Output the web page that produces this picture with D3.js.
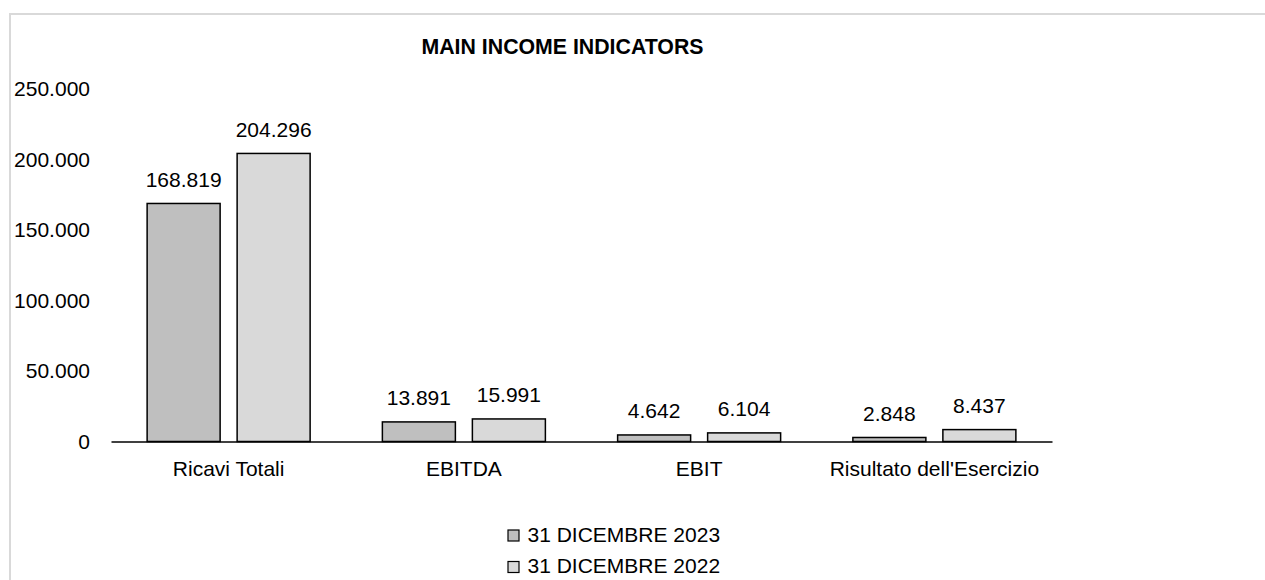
<!DOCTYPE html>
<html>
<head>
<meta charset="utf-8">
<script src="https://cdn.jsdelivr.net/npm/d3@7"></script>
<style>
  html, body { margin: 0; padding: 0; background: #fff; }
  svg { display: block; font-family: "Liberation Sans", Arial, sans-serif; }
</style>
</head>
<body>
<svg id="chart" width="1265" height="580"></svg>
<script>
// Income indicators, values in thousands of euro
const categories = ["Ricavi Totali", "EBITDA", "EBIT", "Risultato dell'Esercizio"];
const seriesNames = ["31 DICEMBRE 2023", "31 DICEMBRE 2022"];
const values2023 = [168819, 13891, 4642, 2848];
const values2022 = [204296, 15991, 6104, 8437];
const yTicks = [0, 50000, 100000, 150000, 200000, 250000];
const chartTitle = "MAIN INCOME INDICATORS";

const seriesValues = [values2023, values2022];
const seriesColors = ["#bfbfbf", "#d9d9d9"];

const itLocale = d3.formatLocale({ decimal: ",", thousands: ".", grouping: [3], currency: ["€", ""] });
const fmt = itLocale.format(",d");

const FONT = 21;
const svg = d3.select("#chart");

// outer frame
svg.append("rect")
  .attr("x", 10).attr("y", 14).attr("width", 1300).attr("height", 620)
  .attr("fill", "none").attr("stroke", "#d9d9d9").attr("stroke-width", 2);

const plot = { left: 111, right: 1052, top: 89, bottom: 441.5 };

const x0 = d3.scaleBand().domain(categories).range([plot.left, plot.right]).padding(0);
const y = d3.scaleLinear().domain([0, 250000]).range([plot.bottom, plot.top]);

const barWidth = 73, barGap = 17;

// title
svg.append("text")
  .attr("x", 562.5).attr("y", 53.5)
  .attr("text-anchor", "middle")
  .attr("font-size", 21.3).attr("font-weight", "bold")
  .attr("fill", "#000")
  .text(chartTitle);

// y tick labels
const yAxis = d3.axisLeft(y).tickValues(yTicks).tickFormat(d => d === 0 ? "0" : fmt(d)).tickSize(0).tickPadding(0);
const yg = svg.append("g").attr("transform", "translate(90,0)").call(yAxis);
yg.select(".domain").remove();
yg.selectAll("text").attr("font-size", FONT).attr("fill", "#000").attr("font-family", "Liberation Sans, Arial, sans-serif");

// bars with value labels
const groups = svg.append("g");
categories.forEach((cat, ci) => {
  const cx = x0(cat) + x0.bandwidth() / 2;
  seriesValues.forEach((vals, si) => {
    const v = vals[ci];
    const bx = si === 0 ? cx - barGap / 2 - barWidth : cx + barGap / 2;
    groups.append("rect")
      .attr("x", bx).attr("y", y(v))
      .attr("width", barWidth).attr("height", y(0) - y(v))
      .attr("fill", seriesColors[si])
      .attr("stroke", "#000").attr("stroke-width", 1.5);
    groups.append("text")
      .attr("x", bx + barWidth / 2).attr("y", y(v) - 16.5)
      .attr("text-anchor", "middle")
      .attr("font-size", FONT).attr("fill", "#000")
      .text(fmt(v));
  });
});

// x axis
const xAxis = d3.axisBottom(x0).tickSize(0).tickPadding(0);
const xg = svg.append("g").attr("transform", `translate(0,${plot.bottom})`).call(xAxis);
xg.select(".domain").attr("stroke", "#000").attr("stroke-width", 1.5);
xg.selectAll("text").attr("font-size", FONT).attr("fill", "#000")
  .attr("font-family", "Liberation Sans, Arial, sans-serif")
  .attr("dy", 0).attr("y", 34.5);

// legend
const legend = svg.append("g");
seriesNames.forEach((name, i) => {
  const top = 530 + i * 31.5;
  legend.append("rect")
    .attr("x", 508).attr("y", top).attr("width", 11).attr("height", 11)
    .attr("fill", seriesColors[i]).attr("stroke", "#000").attr("stroke-width", 1.2);
  legend.append("text")
    .attr("x", 527.5).attr("y", top + 11.5)
    .attr("font-size", FONT).attr("fill", "#000")
    .text(name);
});
</script>
</body>
</html>
